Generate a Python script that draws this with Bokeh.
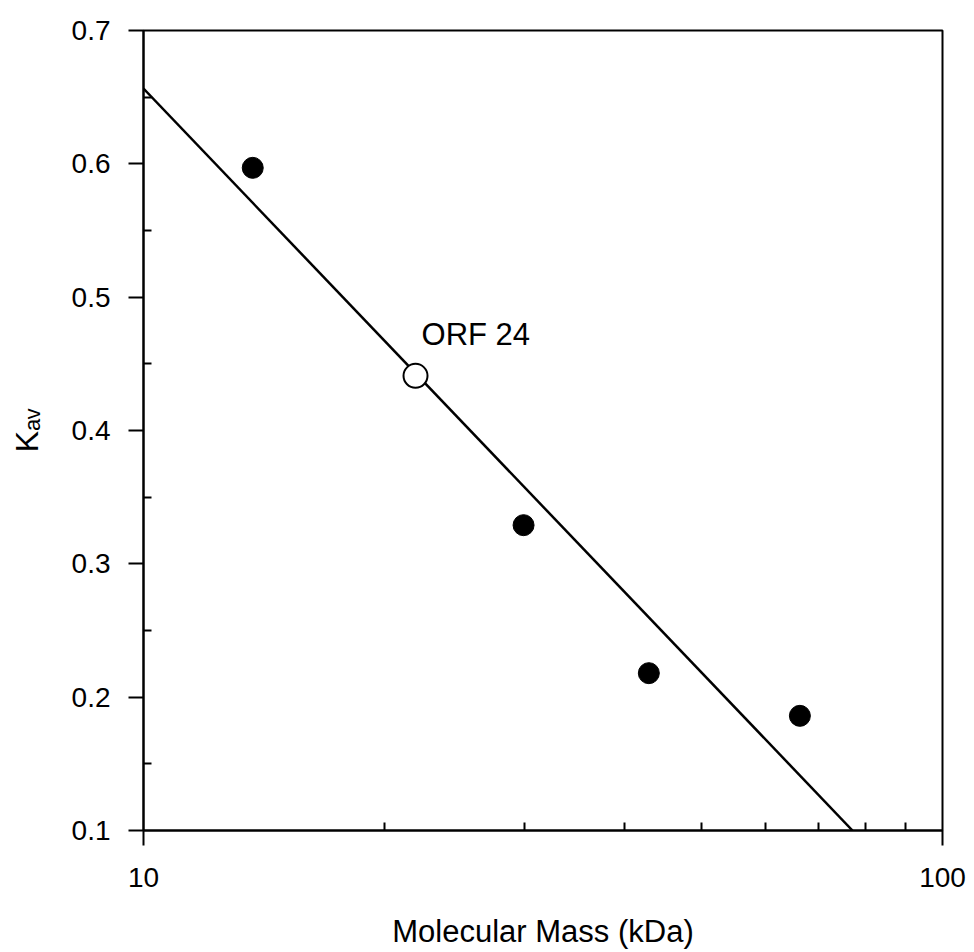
import numpy as np
from bokeh.plotting import figure
from bokeh.models import Range1d, FixedTicker, Label, BasicTickFormatter
from bokeh.embed import file_html
from bokeh.resources import INLINE

# Standards (filled circles)
std_mass = [13.7, 29.9, 42.9, 66.3]        # kDa
std_kav = [0.597, 0.329, 0.218, 0.186]
# Unknown (open circle)
orf_mass = [21.9]
orf_kav = [0.441]
orf_label = "ORF 24"

x_ticks = [10, 100]
x_minor = [20, 30, 40, 50, 60, 70, 80, 90]
y_ticks = [0.1, 0.2, 0.3, 0.4, 0.5, 0.6, 0.7]
y_minor = [0.15, 0.25, 0.35, 0.45, 0.55, 0.65]

# Linear fit Kav vs log10(M) through the standards
slope, intercept = np.polyfit(np.log10(std_mass), std_kav, 1)
line_x = [10.0, 10 ** ((0.1 - intercept) / slope)]
line_y = [intercept + slope * np.log10(v) for v in line_x]

FONT = "Liberation Sans"

p = figure(width=974, height=952, x_axis_type="log",
           x_range=Range1d(10, 100), y_range=Range1d(0.1, 0.7),
           output_backend="svg", toolbar_location=None,
           min_border_left=143, min_border_right=32,
           min_border_top=30, min_border_bottom=122)

p.background_fill_color = "white"
p.border_fill_color = "white"
p.grid.visible = False
p.outline_line_color = "black"
p.outline_line_width = 2

p.xaxis.ticker = FixedTicker(ticks=x_ticks, minor_ticks=x_minor)
p.yaxis.ticker = FixedTicker(ticks=y_ticks, minor_ticks=y_minor)
p.xaxis.formatter = BasicTickFormatter()
p.xaxis.major_label_overrides = {10: "10", 100: "100"}

for ax in (p.xaxis[0], p.yaxis[0]):
    ax.axis_line_color = "black"
    ax.axis_line_width = 2
    ax.major_tick_line_color = "black"
    ax.major_tick_line_width = 2
    ax.major_tick_out = 15
    ax.major_tick_in = 0
    ax.minor_tick_line_color = "black"
    ax.minor_tick_line_width = 2
    ax.minor_tick_in = 8
    ax.minor_tick_out = 0
    ax.major_label_text_font = FONT
    ax.major_label_text_font_size = "28px"
    ax.major_label_text_color = "black"
    ax.axis_label_text_font = FONT
    ax.axis_label_text_font_size = "31px"
    ax.axis_label_text_font_style = "normal"
    ax.axis_label_text_color = "black"

p.xaxis.major_label_standoff = 22
p.xaxis.axis_label = "Molecular Mass (kDa)"
p.xaxis.axis_label_standoff = 24
p.yaxis.major_label_standoff = 18
p.yaxis.axis_label = "Kₐᵥ"
p.yaxis.axis_label_text_font_size = "32px"
p.yaxis.axis_label_standoff = 24

# Regression line
p.line(line_x, line_y, line_color="black", line_width=2.5)

# Standards
p.scatter(std_mass, std_kav, marker="circle", size=21,
          fill_color="black", line_color="black")

# Unknown
p.scatter(orf_mass, orf_kav, marker="circle", size=24,
          fill_color="white", line_color="black", line_width=2)

p.add_layout(Label(x=orf_mass[0], y=orf_kav[0], text=orf_label,
                   x_offset=6, y_offset=41,
                   text_font=FONT, text_font_size="31px",
                   text_color="black", text_baseline="alphabetic",
                   text_align="left"))

open("out.html", "w").write(file_html(p, INLINE))
